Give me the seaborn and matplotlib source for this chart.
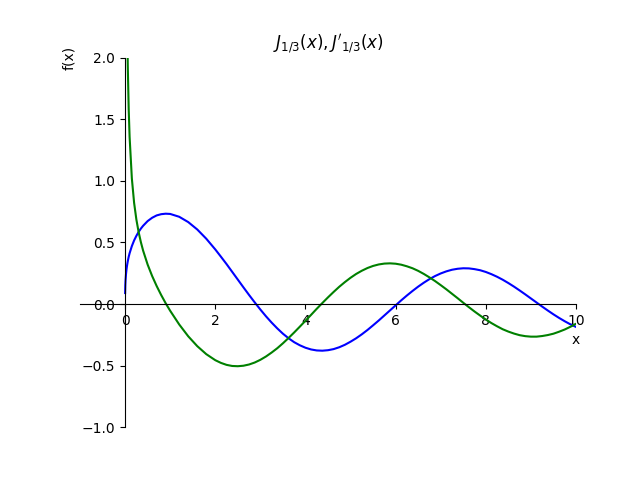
import numpy as np
import pandas as pd
import seaborn as sns
import matplotlib
matplotlib.use("Agg")
import matplotlib.pyplot as plt

# values (x, J_1/3(x), J'_1/3(x))
x_vals = [0.001, 0.005, 0.01, 0.02, 0.03, 0.04, 0.05, 0.06, 0.08, 0.1,
          0.15, 0.2, 0.25, 0.3, 0.35, 0.4, 0.5, 0.6, 0.7, 0.8,
          0.9, 1.0, 1.2, 1.4, 1.6, 1.8, 2.0, 2.125, 2.25, 2.375,
          2.5, 2.625, 2.75, 2.875, 3.0, 3.125, 3.25, 3.375, 3.5, 3.625,
          3.75, 3.875, 4.0, 4.125, 4.25, 4.375, 4.5, 4.625, 4.75, 4.875,
          5.0, 5.125, 5.25, 5.375, 5.5, 5.625, 5.75, 5.875, 6.0, 6.125,
          6.25, 6.375, 6.5, 6.625, 6.75, 6.875, 7.0, 7.125, 7.25, 7.375,
          7.5, 7.625, 7.75, 7.875, 8.0, 8.125, 8.25, 8.375, 8.5, 8.625,
          8.75, 8.875, 9.0, 9.125, 9.25, 9.375, 9.5, 9.625, 9.75, 9.875,
          10.0]
j_vals = [0.089, 0.152, 0.191, 0.241, 0.276, 0.304, 0.327, 0.348, 0.383, 0.412,
          0.470, 0.516, 0.553, 0.585, 0.612, 0.635, 0.673, 0.700, 0.719, 0.729,
          0.733, 0.731, 0.708, 0.665, 0.605, 0.530, 0.443, 0.384, 0.324, 0.261,
          0.198, 0.135, 0.073, 0.013, -0.045, -0.100, -0.151, -0.198, -0.241, -0.278,
          -0.310, -0.335, -0.355, -0.369, -0.377, -0.379, -0.375, -0.366, -0.351, -0.331,
          -0.306, -0.278, -0.246, -0.211, -0.173, -0.134, -0.093, -0.052, -0.011, 0.030,
          0.069, 0.106, 0.141, 0.173, 0.202, 0.227, 0.248, 0.265, 0.278, 0.286,
          0.290, 0.289, 0.283, 0.274, 0.260, 0.242, 0.221, 0.197, 0.170, 0.141,
          0.110, 0.078, 0.045, 0.012, -0.021, -0.053, -0.084, -0.113, -0.140, -0.165,
          -0.186]
dj_vals = [29.63, 10.13, 6.383, 4.021, 3.065, 2.527, 2.176, 1.924, 1.582, 1.357,
           1.019, 0.821, 0.686, 0.584, 0.502, 0.433, 0.320, 0.227, 0.146, 0.073,
           0.006, -0.055, -0.166, -0.262, -0.342, -0.407, -0.456, -0.478, -0.494, -0.503,
           -0.505, -0.501, -0.491, -0.475, -0.453, -0.426, -0.394, -0.359, -0.319, -0.276,
           -0.231, -0.184, -0.136, -0.088, -0.039, 0.008, 0.054, 0.098, 0.140, 0.178,
           0.213, 0.244, 0.270, 0.292, 0.309, 0.321, 0.328, 0.330, 0.327, 0.319,
           0.306, 0.290, 0.269, 0.244, 0.216, 0.186, 0.153, 0.119, 0.083, 0.047,
           0.010, -0.026, -0.061, -0.094, -0.126, -0.155, -0.181, -0.205, -0.224, -0.240,
           -0.253, -0.261, -0.265, -0.265, -0.260, -0.252, -0.241, -0.225, -0.207, -0.185,
           -0.161]

df = pd.DataFrame({"x": x_vals, "j": j_vals, "dj": dj_vals})

fig, ax = plt.subplots(figsize=(6.4, 4.8), dpi=100)
sns.lineplot(data=df, x="x", y="j", color="blue", sort=False, estimator=None, ax=ax)
sns.lineplot(data=df, x="x", y="dj", color="green", sort=False, estimator=None, ax=ax)

# sympy-like centred axes
ax.spines["left"].set_position("zero")
ax.spines["bottom"].set_position("zero")
ax.spines["right"].set_color("none")
ax.spines["top"].set_color("none")
ax.xaxis.set_ticks_position("bottom")
ax.yaxis.set_ticks_position("left")

ax.set_xlim(-1, 10)
ax.set_ylim(-1, 2)
ax.set_title(r"$J_{1/3}(x),J'_{1/3}(x)$")
ax.set_xlabel("x")
ax.set_ylabel("f(x)")
ax.xaxis.label.set_x(1.0)
ax.yaxis.label.set_y(1.0)

fig.savefig("out.png", dpi=100)
